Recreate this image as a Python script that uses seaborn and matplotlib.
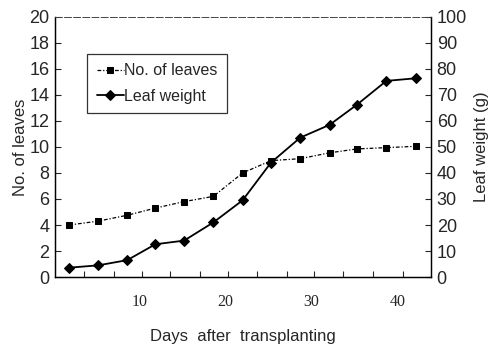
import matplotlib
matplotlib.use("Agg")
import matplotlib.pyplot as plt
import seaborn as sns
import pandas as pd

days = [1.86, 5.23, 8.6, 11.86, 15.2, 18.6, 22.0, 25.3, 28.7, 32.1, 35.3, 38.7, 42.1]
leaves = [4.0, 4.3, 4.75, 5.3, 5.8, 6.2, 8.0, 8.95, 9.1, 9.55, 9.85, 9.95, 10.05]
leaf_weight = [3.6, 4.5, 6.5, 12.6, 14.0, 21.0, 29.5, 44.0, 53.6, 58.5, 66.3, 75.4, 76.4]
xtick_labels = [10, 20, 30, 40]
minor_ticks = [3.6, 7.0, 10.3, 13.6, 17.0, 20.3, 23.7, 27.1, 30.3, 33.7, 37.1, 40.6]

sns.set_style("white")
plt.rcParams['font.family'] = ['Liberation Sans', 'DejaVu Sans']

df = pd.DataFrame({"day": days, "leaves": leaves, "weight": leaf_weight})

fig = plt.figure(figsize=(4.91, 3.45), dpi=100)
ax = fig.add_axes([0.112, 0.197, 0.766, 0.754])
ax2 = ax.twinx()

sns.lineplot(data=df, x="day", y="leaves", ax=ax, color="black", lw=0.9,
             linestyle=(0, (3, 1.5, 1, 1.5)), marker="s", markersize=5,
             markeredgecolor="black", label="No. of leaves", legend=False)
sns.lineplot(data=df, x="day", y="weight", ax=ax2, color="black", lw=1.3,
             linestyle="-", marker="D", markersize=5,
             markeredgecolor="black", label="Leaf weight", legend=False)

ax.set_xlim(0.2, 43.9)
ax.set_ylim(0, 20)
ax2.set_ylim(0, 100)
ax.set_yticks(range(0, 21, 2))
ax2.set_yticks(range(0, 101, 10))
ax.set_xticks(xtick_labels)
ax.set_xticklabels([str(v) for v in xtick_labels], fontfamily="Liberation Serif", fontsize=11.5)
ax.set_xticks(minor_ticks, minor=True)
ax.tick_params(axis="x", which="major", length=0, pad=12)
ax.tick_params(axis="x", which="minor", direction="in", length=4, width=0.8, bottom=True)
ax.tick_params(axis="y", direction="in", length=4, width=0.8, labelsize=13, left=True, pad=4)
ax2.tick_params(axis="y", direction="in", length=4, width=0.8, labelsize=13, right=True, pad=4)

for a in (ax, ax2):
    for s in a.spines.values():
        s.set_color("black")
        s.set_linewidth(0.9)
    a.spines["top"].set_linestyle((0, (8, 3)))
    a.spines["top"].set_linewidth(0.6)
    a.spines["top"].set_color("#444444")

ax.set_xlabel("Days  after  transplanting", fontsize=12, labelpad=14)
ax.set_ylabel("No. of leaves", fontsize=12, labelpad=1)
ax2.set_ylabel("Leaf weight (g)", fontsize=12, labelpad=5)

h1, l1 = ax.get_legend_handles_labels()
h2, l2 = ax2.get_legend_handles_labels()
leg = ax.legend(h1 + h2, l1 + l2, loc="upper left", bbox_to_anchor=(0.085, 0.858),
                borderaxespad=0, frameon=True, fancybox=False, edgecolor="black",
                fontsize=11.5, handlelength=1.7, handletextpad=0.0,
                borderpad=0.6, labelspacing=0.65)
leg.get_frame().set_linewidth(0.9)

fig.savefig("out.png", dpi=100)
